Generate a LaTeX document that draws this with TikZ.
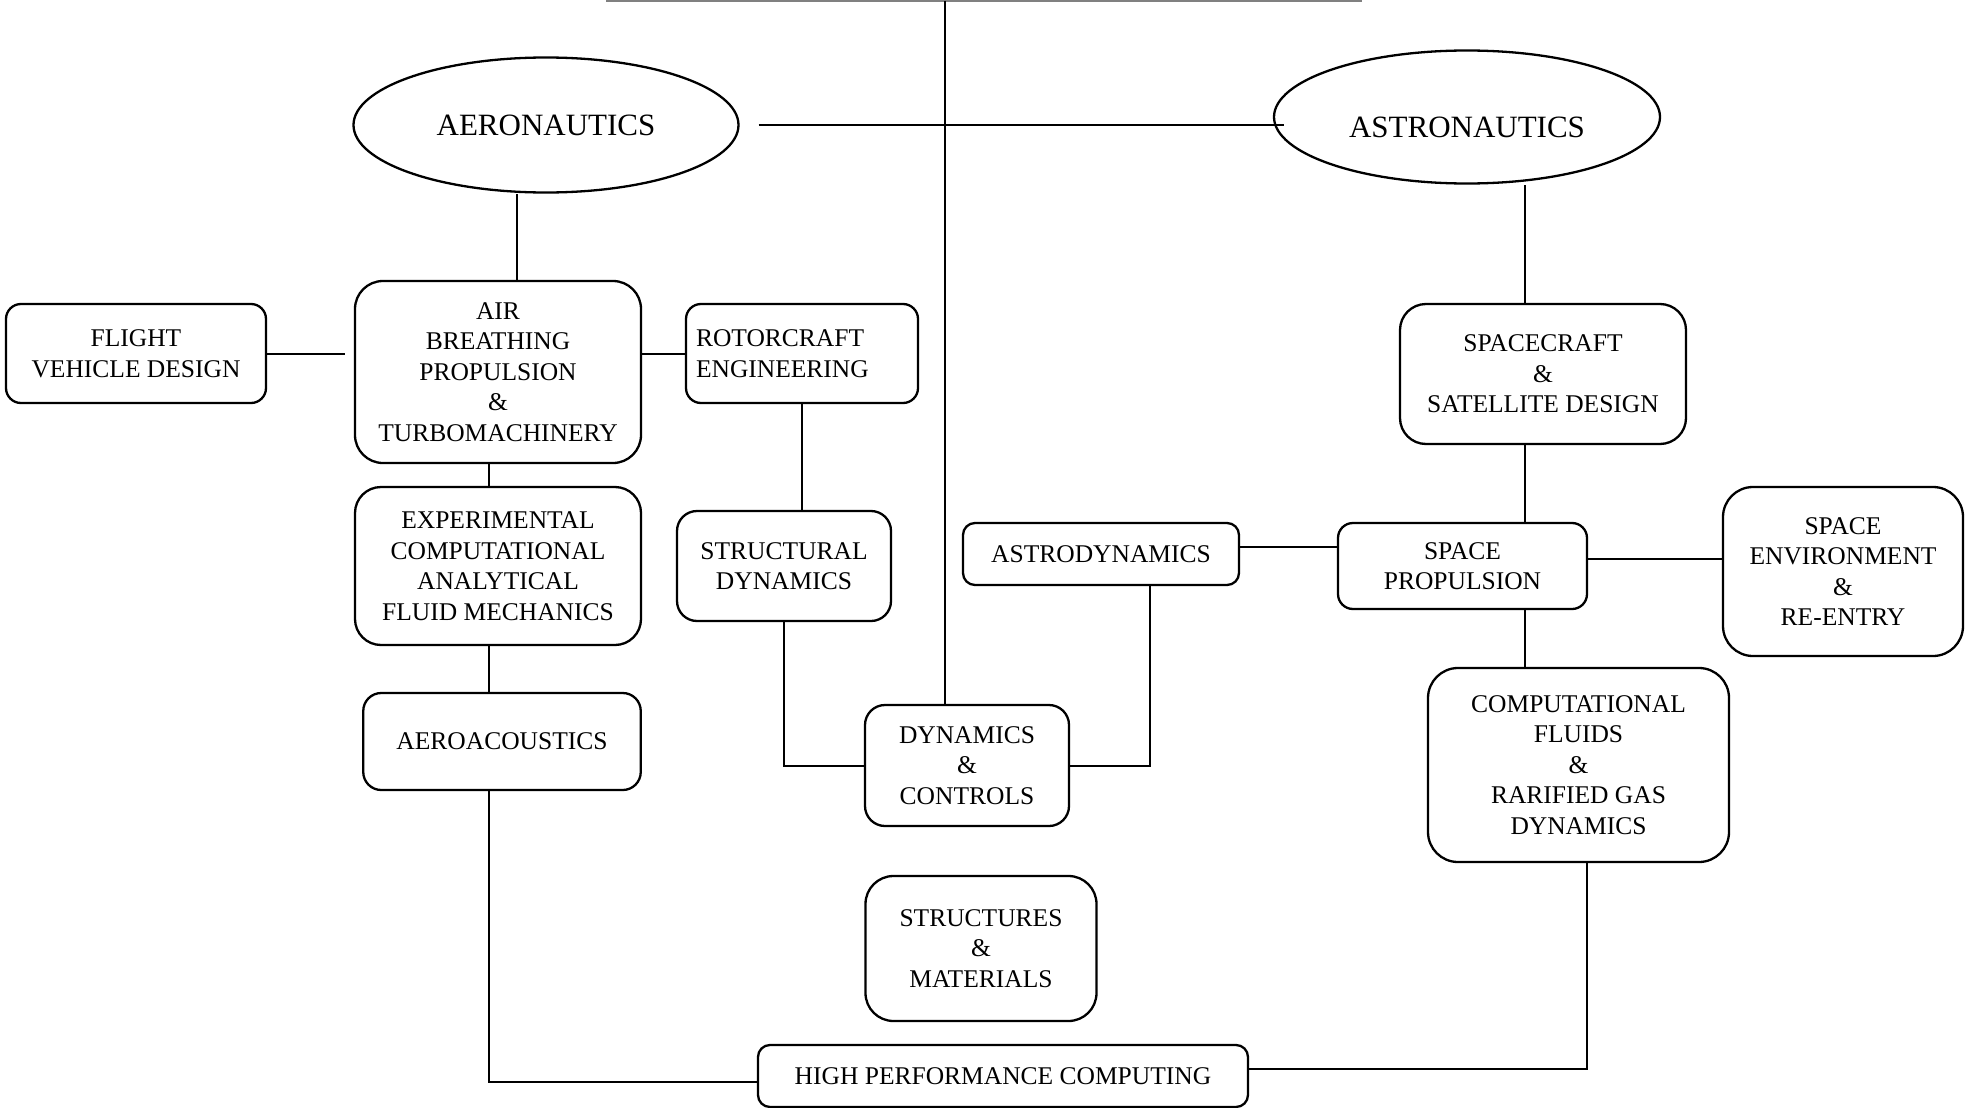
\documentclass[tikz,border=0pt]{standalone}
\usepackage{fontspec}
\setmainfont{Liberation Serif}
\usepackage{tikz}
\usetikzlibrary{shapes.geometric, calc}

\tikzset{
  field/.style={draw, line width=2.3pt, rounded corners=15pt, inner sep=0pt, align=center,
    font=\fontsize{25.5pt}{30.5pt}\selectfont},
  branch/.style={draw, ellipse, line width=2.3pt, inner sep=0pt,
    font=\fontsize{31pt}{36pt}\selectfont},
  link/.style={line width=2pt}
}

\begin{document}
\begin{tikzpicture}[x=1pt, y=-1pt]
    \useasboundingbox (0,0) rectangle (1965,1108);

      % Draw the two branches
      \node[branch, minimum width=385, minimum height=135] (aero) at (546,125) {AERONAUTICS};
      \node[branch, text height=40.5pt, minimum width=386, minimum height=133] (astro) at (1467,117) {ASTRONAUTICS};

      % Aeronautics side
      \node[field, minimum width=260, minimum height=99] (fvd) at (136,353.5) {FLIGHT\\VEHICLE DESIGN};
      \node[field, rounded corners=28pt, minimum width=286, minimum height=182] (abp) at (498,372) {AIR\\BREATHING\\PROPULSION\\\&\\TURBOMACHINERY};
      \node[field, align=left, text width=212, minimum width=232, minimum height=99] (rotor) at (802,353.5) {ROTORCRAFT\\ENGINEERING};
      \node[field, rounded corners=26pt, minimum width=286, minimum height=158] (exp) at (498,566) {EXPERIMENTAL\\COMPUTATIONAL\\ANALYTICAL\\FLUID MECHANICS};
      \node[field, rounded corners=18pt, minimum width=277.5, minimum height=97] (acou) at (502,741.5) {AEROACOUSTICS};
      \node[field, rounded corners=20pt, minimum width=214, minimum height=110] (sdyn) at (784,566) {STRUCTURAL\\DYNAMICS};

      % Middle
      \node[field, rounded corners=20pt, minimum width=204, minimum height=121] (dyn) at (967,765.5) {DYNAMICS\\\&\\CONTROLS};
      \node[field, rounded corners=28pt, minimum width=231, minimum height=145] (sm) at (981,948.5) {STRUCTURES\\\&\\MATERIALS};
      \node[field, rounded corners=12pt, minimum width=490, minimum height=62] (hpc) at (1003,1076) {HIGH PERFORMANCE COMPUTING};

      % Astronautics side
      \node[field, rounded corners=12pt, minimum width=276, minimum height=62] (astrodyn) at (1101,554) {ASTRODYNAMICS};
      \node[field, rounded corners=26pt, minimum width=286, minimum height=140] (sc) at (1543,374) {SPACECRAFT\\\&\\SATELLITE DESIGN};
      \node[field, minimum width=249, minimum height=86] (sprop) at (1462.5,566) {SPACE\\PROPULSION};
      \node[field, rounded corners=30pt, minimum width=240, minimum height=169] (senv) at (1843,571.5) {SPACE\\ENVIRONMENT\\\&\\RE-ENTRY};
      \node[field, rounded corners=30pt, minimum width=301, minimum height=194] (cf) at (1578.5,765) {COMPUTATIONAL\\FLUIDS\\\&\\RARIFIED GAS\\DYNAMICS};

      % Top bar
      \coordinate (topl) at (606,1);
      \coordinate (topr) at (1362,1);
      \coordinate (topm) at (944.5,1);
      \draw[gray, line width=1.2pt] (topl) -- (topr);
      \draw[link] (topm) -- (topm |- dyn.north);

      % Draw the links
      \draw[link] ([xshift=19pt]aero.east) -- ([xshift=11pt]astro.west |- aero.east);
      \draw[link] ([xshift=18.5pt]abp.north) -- ([xshift=18.5pt]abp.north |- aero.south);
      \draw[link, shorten >=9pt] (fvd.east) -- (fvd.east -| abp.west);
      \draw[link] (rotor.west -| abp.east) -- (rotor.west);
      \draw[link] ([xshift=-9pt]abp.south) -- ([xshift=-9pt]exp.north);
      \draw[link] ([xshift=-9pt]exp.south) -- ([xshift=-9pt]exp.south |- acou.north);
      \draw[link] ([xshift=-13pt]acou.south) |- ([yshift=-5.5pt]hpc.west);
      \draw[link] (rotor.south) -- (rotor.south |- sdyn.north);
      \draw[link] (sdyn.south) |- (dyn.west);
      \draw[link] ([xshift=49pt]astrodyn.south) |- (dyn.east);
      \draw[link] ([yshift=7pt]astrodyn.east) -- ([yshift=7pt]astrodyn.east -| sprop.west);
      \draw[link] ([xshift=-18pt]sc.north) -- ([xshift=-18pt]sc.north |- astro.south);
      \draw[link] ([xshift=-18pt]sc.south) -- ([xshift=-18pt]sc.south |- sprop.north);
      \draw[link] ([yshift=7pt]sprop.east) -- ([yshift=7pt]sprop.east -| senv.west);
      \draw[link] ([xshift=62.5pt]sprop.south) -- ([xshift=62.5pt]sprop.south |- cf.north);
      \draw[link] ([xshift=8.5pt]cf.south) |- ([yshift=7pt]hpc.east);
    \end{tikzpicture}
\end{document}
